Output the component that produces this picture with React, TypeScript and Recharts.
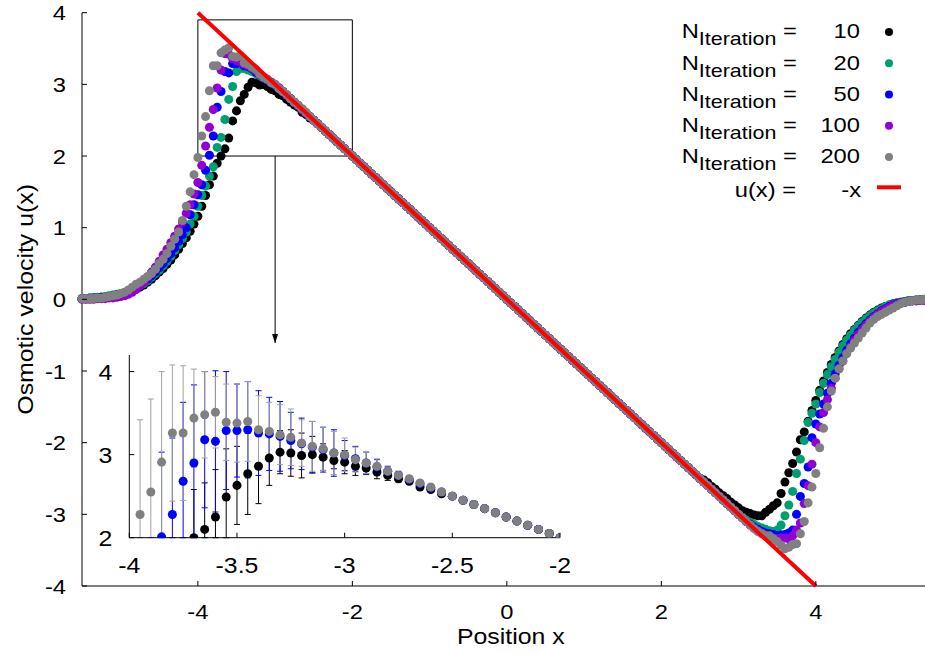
import React from "react";
import {
  ScatterChart,
  Scatter,
  XAxis,
  YAxis,
  ZAxis,
  ErrorBar,
  ReferenceArea,
  ReferenceLine,
  ReferenceDot,
  Legend,
} from "recharts";

const FONT = "'Liberation Sans', Arial, Helvetica, sans-serif";
const STRETCH = 1.13;

// sample positions, step 0.05 from -5.5 to 5.5
const xGrid = [
  -5.5, -5.45, -5.4, -5.35, -5.3, -5.25, -5.2, -5.15, -5.1, -5.05,
  -5, -4.95, -4.9, -4.85, -4.8, -4.75, -4.7, -4.65, -4.6, -4.55,
  -4.5, -4.45, -4.4, -4.35, -4.3, -4.25, -4.2, -4.15, -4.1, -4.05,
  -4, -3.95, -3.9, -3.85, -3.8, -3.75, -3.7, -3.65, -3.6, -3.55,
  -3.5, -3.45, -3.4, -3.35, -3.3, -3.25, -3.2, -3.15, -3.1, -3.05,
  -3, -2.95, -2.9, -2.85, -2.8, -2.75, -2.7, -2.65, -2.6, -2.55,
  -2.5, -2.45, -2.4, -2.35, -2.3, -2.25, -2.2, -2.15, -2.1, -2.05,
  -2, -1.95, -1.9, -1.85, -1.8, -1.75, -1.7, -1.65, -1.6, -1.55,
  -1.5, -1.45, -1.4, -1.35, -1.3, -1.25, -1.2, -1.15, -1.1, -1.05,
  -1, -0.95, -0.9, -0.85, -0.8, -0.75, -0.7, -0.65, -0.6, -0.55,
  -0.5, -0.45, -0.4, -0.35, -0.3, -0.25, -0.2, -0.15, -0.1, -0.05,
  0, 0.05, 0.1, 0.15, 0.2, 0.25, 0.3, 0.35, 0.4, 0.45,
  0.5, 0.55, 0.6, 0.65, 0.7, 0.75, 0.8, 0.85, 0.9, 0.95,
  1, 1.05, 1.1, 1.15, 1.2, 1.25, 1.3, 1.35, 1.4, 1.45,
  1.5, 1.55, 1.6, 1.65, 1.7, 1.75, 1.8, 1.85, 1.9, 1.95,
  2, 2.05, 2.1, 2.15, 2.2, 2.25, 2.3, 2.35, 2.4, 2.45, 2.5,
  2.55, 2.6, 2.65, 2.7, 2.75, 2.8, 2.85, 2.9, 2.95, 3,
  3.05, 3.1, 3.15, 3.2, 3.25, 3.3, 3.35, 3.4, 3.45, 3.5,
  3.55, 3.6, 3.65, 3.7, 3.75, 3.8, 3.85, 3.9, 3.95, 4,
  4.05, 4.1, 4.15, 4.2, 4.25, 4.3, 4.35, 4.4, 4.45, 4.5,
  4.55, 4.6, 4.65, 4.7, 4.75, 4.8, 4.85, 4.9, 4.95, 5,
  5.05, 5.1, 5.15, 5.2, 5.25, 5.3, 5.35, 5.4, 5.45, 5.5,
];

// u(x) for x = -5.5 .. -2.55
const left10 = [
  0.01, 0.01, 0.02, 0.02, 0.02, 0.03, 0.03, 0.04, 0.05, 0.06,
  0.07, 0.08, 0.1, 0.12, 0.14, 0.17, 0.2, 0.24, 0.28, 0.33,
  0.38, 0.43, 0.49, 0.55, 0.62, 0.7, 0.78, 0.86, 0.95, 1.05,
  1.16, 1.3, 1.45, 1.6, 1.72, 1.9, 2.0, 2.1, 2.25, 2.49,
  2.63, 2.77, 2.86, 2.96, 3.03, 3.02, 2.99, 3.0, 2.97, 2.93,
  2.91, 2.86, 2.84, 2.79, 2.75, 2.71, 2.68, 2.61, 2.58, 2.53,
];
const left20 = [
  0.01, 0.01, 0.02, 0.02, 0.03, 0.03, 0.04, 0.05, 0.06, 0.07,
  0.08, 0.09, 0.11, 0.13, 0.16, 0.19, 0.22, 0.26, 0.31, 0.36,
  0.41, 0.47, 0.53, 0.6, 0.68, 0.76, 0.85, 0.94, 1.05, 1.16,
  1.3, 1.45, 1.58, 1.72, 1.85, 2.12, 2.26, 2.51, 2.79, 2.97,
  3.18, 3.22, 3.22, 3.2, 3.18, 3.15, 3.12, 3.09, 3.06, 3.03,
  2.99, 2.95, 2.9, 2.85, 2.8, 2.75, 2.7, 2.65, 2.6, 2.55,
];
const left50 = [
  0.01, 0.01, 0.01, 0.02, 0.02, 0.03, 0.03, 0.04, 0.05, 0.06,
  0.07, 0.09, 0.11, 0.14, 0.17, 0.2, 0.24, 0.28, 0.33, 0.38,
  0.44, 0.5, 0.57, 0.64, 0.72, 0.81, 0.9, 1.0, 1.18, 1.32,
  1.46, 1.6, 1.8, 2.01, 2.28, 2.68, 2.9, 3.18, 3.16, 3.29,
  3.29, 3.3, 3.26, 3.25, 3.22, 3.17, 3.13, 3.09, 3.06, 3.02,
  2.99, 2.95, 2.9, 2.85, 2.8, 2.75, 2.7, 2.65, 2.6, 2.55,
];
const left100 = [
  0.0, 0.0, 0.0, 0.0, 0.01, 0.01, 0.01, 0.02, 0.02, 0.03,
  0.04, 0.05, 0.07, 0.1, 0.14, 0.19, 0.24, 0.31, 0.38, 0.45,
  0.53, 0.62, 0.7, 0.79, 0.88, 0.98, 1.08, 1.2, 1.32, 1.47,
  1.63, 1.87, 2.14, 2.4, 2.65, 2.95, 3.2, 3.43, 3.42, 3.36,
  3.33, 3.31, 3.28, 3.26, 3.23, 3.19, 3.14, 3.1, 3.07, 3.03,
  3.0, 2.95, 2.9, 2.85, 2.8, 2.75, 2.7, 2.65, 2.6, 2.55,
];
const left200 = [
  0.01, 0.01, 0.01, 0.01, 0.02, 0.02, 0.03, 0.04, 0.05, 0.06,
  0.08, 0.1, 0.13, 0.17, 0.21, 0.24, 0.28, 0.32, 0.36, 0.42,
  0.5, 0.56, 0.64, 0.74, 0.84, 0.94, 1.1, 1.3, 1.5, 1.74,
  1.98, 2.28, 2.55, 2.91, 3.26, 3.26, 3.44, 3.48, 3.51, 3.39,
  3.38, 3.4, 3.3, 3.28, 3.24, 3.21, 3.14, 3.1, 3.07, 3.02,
  3.0, 2.94, 2.9, 2.86, 2.8, 2.75, 2.71, 2.66, 2.61, 2.55,
];

// x = -2.5 .. 2.5: all five runs sit on top of each other here
const overlapMid = [
  2.5, 2.45, 2.4, 2.35, 2.3, 2.25, 2.2, 2.15, 2.1, 2.05,
  2, 1.95, 1.9, 1.85, 1.8, 1.75, 1.7, 1.65, 1.6, 1.55,
  1.5, 1.45, 1.4, 1.35, 1.3, 1.25, 1.2, 1.15, 1.1, 1.05,
  1, 0.95, 0.9, 0.85, 0.8, 0.75, 0.7, 0.65, 0.6, 0.55,
  0.5, 0.45, 0.4, 0.35, 0.3, 0.25, 0.2, 0.15, 0.1, 0.05,
  0, -0.05, -0.1, -0.15, -0.2, -0.25, -0.3, -0.35, -0.4, -0.45,
  -0.5, -0.55, -0.6, -0.65, -0.7, -0.75, -0.8, -0.85, -0.9, -0.95,
  -1, -1.05, -1.1, -1.15, -1.2, -1.25, -1.3, -1.35, -1.4, -1.45,
  -1.5, -1.55, -1.6, -1.65, -1.7, -1.75, -1.8, -1.85, -1.9, -1.95,
  -2, -2.05, -2.1, -2.15, -2.2, -2.25, -2.3, -2.35, -2.4, -2.45, -2.5,
];

// u(x) for x = 2.55 .. 5.5
const right10 = [
  -2.52, -2.56, -2.61, -2.65, -2.7, -2.74, -2.78, -2.83, -2.87, -2.91,
  -2.95, -2.97, -2.99, -3.01, -3.02, -3.02, -2.97, -2.93, -2.88, -2.84,
  -2.71, -2.55, -2.42, -2.29, -2.13, -1.96, -1.85, -1.7, -1.55, -1.41,
  -1.27, -1.14, -1.02, -0.91, -0.81, -0.72, -0.63, -0.55, -0.48, -0.42,
  -0.36, -0.31, -0.26, -0.22, -0.18, -0.15, -0.12, -0.1, -0.08, -0.06,
  -0.05, -0.04, -0.03, -0.02, -0.02, -0.01, -0.01, -0.01, 0.0, 0.0,
];
const right20 = [
  -2.55, -2.6, -2.65, -2.7, -2.75, -2.8, -2.85, -2.9, -2.95, -3.0,
  -3.04, -3.08, -3.11, -3.14, -3.17, -3.19, -3.21, -3.23, -3.24, -3.22,
  -3.15, -3.02, -2.87, -2.68, -2.43, -2.23, -1.97, -1.72, -1.59, -1.46,
  -1.3, -1.17, -1.05, -0.94, -0.84, -0.74, -0.65, -0.57, -0.5, -0.43,
  -0.37, -0.32, -0.27, -0.23, -0.19, -0.16, -0.13, -0.1, -0.08, -0.07,
  -0.05, -0.04, -0.03, -0.02, -0.02, -0.01, -0.01, 0.0, 0.0, 0.0,
];
const right50 = [
  -2.55, -2.6, -2.65, -2.7, -2.75, -2.8, -2.85, -2.9, -2.95, -3.0,
  -3.05, -3.1, -3.14, -3.18, -3.21, -3.24, -3.26, -3.27, -3.28, -3.3,
  -3.29, -3.28, -3.26, -3.22, -3.0, -2.75, -2.57, -2.34, -1.93, -1.74,
  -1.6, -1.46, -1.31, -1.17, -1.04, -0.92, -0.81, -0.71, -0.62, -0.54,
  -0.46, -0.4, -0.34, -0.29, -0.24, -0.2, -0.16, -0.13, -0.1, -0.08,
  -0.06, -0.05, -0.04, -0.03, -0.02, -0.02, -0.01, -0.01, 0.0, 0.0,
];
const right100 = [
  -2.55, -2.6, -2.65, -2.7, -2.75, -2.8, -2.85, -2.9, -2.95, -3.0,
  -3.05, -3.1, -3.15, -3.19, -3.23, -3.26, -3.29, -3.31, -3.33, -3.34,
  -3.33, -3.33, -3.34, -3.3, -3.22, -3.12, -2.85, -2.6, -2.3, -2.0,
  -1.78, -1.58, -1.4, -1.24, -1.1, -0.97, -0.86, -0.75, -0.66, -0.57,
  -0.49, -0.42, -0.36, -0.3, -0.25, -0.21, -0.17, -0.14, -0.11, -0.09,
  -0.07, -0.05, -0.04, -0.03, -0.02, -0.02, -0.01, -0.01, 0.0, 0.0,
];
const right200 = [
  -2.55, -2.6, -2.65, -2.7, -2.75, -2.8, -2.85, -2.9, -2.95, -3.0,
  -3.05, -3.1, -3.15, -3.2, -3.24, -3.27, -3.3, -3.3, -3.34, -3.38,
  -3.43, -3.48, -3.46, -3.42, -3.41, -3.27, -3.1, -2.84, -2.62, -2.43,
  -2.07, -1.8, -1.5, -1.28, -1.1, -0.97, -0.86, -0.76, -0.68, -0.61,
  -0.54, -0.47, -0.4, -0.33, -0.28, -0.24, -0.21, -0.18, -0.15, -0.12,
  -0.09, -0.06, -0.04, -0.03, -0.02, -0.01, -0.01, 0.0, 0.0, 0.0,
];

// inset error bars for x = -3.95 .. -2.0
const err10 = [
  0.3, 0.35, 0.35, 0.25, 0.1, 0.58, 0.56, 0.57, 0.58, 0.47,
  0.49, 0.45, 0.33, 0.26, 0.28, 0.27, 0.22, 0.16, 0.1, 0.14,
  0.11, 0.08, 0.08, 0.06, 0.04, 0.02, 0.01, 0, 0, 0,
  0, 0, 0, 0, 0, 0, 0, 0, 0, 0,
];
const err50 = [
  0.3, 0.2, 1.02, 0.92, 0.95, 0.94, 0.82, 0.85, 0.71, 0.56,
  0.58, 0.51, 0.44, 0.42, 0.34, 0.31, 0.31, 0.27, 0.28, 0.18,
  0.15, 0.13, 0.09, 0.06, 0.05, 0.03, 0.02, 0, 0, 0,
  0, 0, 0, 0, 0, 0, 0, 0, 0, 0,
];
const err200 = [
  1.14, 1.12, 1.09, 0.82, 0.81, 0.59, 0.52, 0.43, 0.46, 0.47,
  0.48, 0.41, 0.35, 0.36, 0.34, 0.28, 0.3, 0.26, 0.26, 0.2,
  0.15, 0.13, 0.09, 0.05, 0.04, 0.03, 0.02, 0, 0, 0,
  0, 0, 0, 0, 0, 0, 0, 0, 0, 0,
];

const exactX = [-4, 4];
const exactY = [4, -4];

const mainXTicks = [-4, -2, 0, 2, 4];
const mainYTicks = [-4, -3, -2, -1, 0, 1, 2, 3, 4];
const insetXTicks = [-4, -3.5, -3, -2.5, -2];
const insetYTicks = [2, 3, 4];
const INSET_Y_MIN = 2;

const runs = [
  { n: "10", color: "#000000", left: left10, right: right10 },
  { n: "20", color: "#009e73", left: left20, right: right20 },
  { n: "50", color: "#0000ff", left: left50, right: right50 },
  { n: "100", color: "#9400d3", left: left100, right: right100 },
  { n: "200", color: "#808080", left: left200, right: right200 },
];

const toPoints = (left: number[], right: number[]) => {
  const ys = [...left, ...overlapMid, ...right];
  return xGrid.map((x, i) => ({ x, y: ys[i] }));
};

const runPoints = runs.map((r) => toPoints(r.left, r.right));
const exactPoints = exactX.map((x, i) => ({ x, y: exactY[i] }));

// error bars are cut at the inset's bottom border, like the clipped plot
const clippedBar = (y: number, err: number) => {
  if (!err || y + err <= INSET_Y_MIN) return undefined;
  return [Math.min(err, y - INSET_Y_MIN), err];
};

// inset shows runs 10, 50, 200 between x=-3.95 and x=-2
const insetRuns = [
  { idx: 0, err: err10, barColor: "#000000" },
  { idx: 2, err: err50, barColor: "#0000ff" },
  { idx: 4, err: err200, barColor: "#a0a0a0" },
].map((r) => ({
  ...r,
  color: runs[r.idx].color,
  points: runPoints[r.idx]
    .slice(31, 71)
    .map((p, i) => ({ ...p, err: r.err[i], bar: clippedBar(p.y, r.err[i]) })),
}));

type Side = "bottom" | "top" | "left" | "right";

function tickRenderer(side: Side, len: number, font = 21, gap = 0, base = 0) {
  return (props: any) => {
    const { x, y, payload } = props;
    const text = String(payload.value);
    if (side === "top") return <line x1={x} y1={y} x2={x} y2={y + len} stroke="#000" />;
    if (side === "right") return <line x1={x} y1={y} x2={x - len} y2={y} stroke="#000" />;
    if (side === "bottom") {
      return (
        <g>
          <line x1={x} y1={y} x2={x} y2={y - len} stroke="#000" />
          <text
            transform={`translate(${x},${y + base}) scale(${STRETCH},1)`}
            textAnchor="middle"
            fontSize={font}
            fontFamily={FONT}
            fill="#000"
          >
            {text}
          </text>
        </g>
      );
    }
    return (
      <g>
        <line x1={x} y1={y} x2={x + len} y2={y} stroke="#000" />
        <text
          transform={`translate(${x - gap},${y + base}) scale(${STRETCH},1)`}
          textAnchor="end"
          fontSize={font}
          fontFamily={FONT}
          fill="#000"
        >
          {text}
        </text>
      </g>
    );
  };
}

const XTitle = (props: any) => {
  const vb = props.viewBox;
  return (
    <text
      transform={`translate(${vb.x + vb.width / 2 + 4},${vb.y + 58}) scale(${STRETCH},1)`}
      textAnchor="middle"
      fontSize={22}
      fontFamily={FONT}
      fill="#000"
    >
      Position x
    </text>
  );
};

const YTitle = (props: any) => {
  const vb = props.viewBox;
  return (
    <text
      transform={`translate(${vb.x + 11},${vb.y + vb.height / 2}) rotate(-90) scale(${STRETCH},1)`}
      textAnchor="middle"
      fontSize={22}
      fontFamily={FONT}
      fill="#000"
    >
      Osmotic velocity u(x)
    </text>
  );
};

const LegendBox = () => {
  const rowY = [38.3, 69.5, 100.8, 132, 163.3];
  const at = (x: number, y: number) => `translate(${x},${y}) scale(${STRETCH},1)`;
  return (
    <svg width={925} height={210} style={{ display: "block" }}>
      {runs.map((r, i) => (
        <g key={r.n}>
          <text transform={at(681.7, rowY[i])} fontSize={21} fontFamily={FONT} fill="#000">
            N
            <tspan fontSize={19} dy={7}>
              Iteration
            </tspan>
            <tspan dy={-7}> =</tspan>
          </text>
          <text transform={at(860, rowY[i])} textAnchor="end" fontSize={21} fontFamily={FONT} fill="#000">
            {r.n}
          </text>
          <circle cx={889} cy={rowY[i] - 6.3} r={4} fill={r.color} />
        </g>
      ))}
      <text transform={at(796, 196.5)} textAnchor="end" fontSize={21} fontFamily={FONT} fill="#000">
        u(x) =
      </text>
      <text transform={at(861, 196.5)} textAnchor="end" fontSize={21} fontFamily={FONT} fill="#000">
        -x
      </text>
      <line x1={877} y1={187.3} x2={901} y2={187.3} stroke="#ff0000" strokeWidth={4} />
    </svg>
  );
};

export default function App() {
  return (
    <div
      style={{
        position: "fixed",
        left: 0,
        top: 0,
        width: 925,
        height: 654,
        overflow: "hidden",
        background: "#fff",
      }}
    >
      <div style={{ position: "absolute", left: 0, top: 0 }}>
        <ScatterChart width={940} height={654} margin={{ top: 12.7, right: 8.3, bottom: 38, left: 22 }}>
          <XAxis
            type="number"
            dataKey="x"
            domain={[-5.5, 5.5]}
            ticks={mainXTicks}
            interval={0}
            tickLine={false}
            tickSize={0}
            tickMargin={0}
            height={30}
            stroke="#000"
            tick={tickRenderer("bottom", 5, 21, 0, 32.5)}
            label={XTitle}
          />
          <XAxis
            xAxisId="top"
            orientation="top"
            type="number"
            domain={[-5.5, 5.5]}
            allowDataOverflow
            ticks={mainXTicks}
            interval={0}
            tickLine={false}
            tickSize={0}
            tickMargin={0}
            height={0}
            stroke="#000"
            tick={tickRenderer("top", 5)}
          />
          <YAxis
            type="number"
            dataKey="y"
            domain={[-4, 4]}
            ticks={mainYTicks}
            interval={0}
            tickLine={false}
            tickSize={0}
            tickMargin={0}
            width={60}
            stroke="#000"
            tick={tickRenderer("left", 5, 21, 16, 7.5)}
            label={YTitle}
          />
          <YAxis
            yAxisId="right"
            orientation="right"
            type="number"
            domain={[-4, 4]}
            allowDataOverflow
            ticks={mainYTicks}
            interval={0}
            tickLine={false}
            tickSize={0}
            tickMargin={0}
            width={0}
            stroke="#000"
            tick={tickRenderer("right", 5)}
          />
          <ZAxis range={[64, 64]} />
          {runs.map((r, i) => (
            <Scatter
              key={r.n}
              name={`N = ${r.n}`}
              data={runPoints[i]}
              fill={r.color}
              isAnimationActive={false}
            />
          ))}
          <Scatter
            name="u(x) = -x"
            data={exactPoints}
            fill="#ff0000"
            line={{ stroke: "#ff0000", strokeWidth: 4 }}
            shape={() => <g />}
            isAnimationActive={false}
          />
          <ReferenceArea x1={-4} x2={-2} y1={2} y2={3.9} fill="none" stroke="#000" strokeWidth={1} />
          <ReferenceLine
            segment={[
              { x: -3, y: 2 },
              { x: -3, y: -0.61 },
            ]}
            stroke="#000"
            strokeWidth={1}
          />
          <ReferenceDot
            x={-3}
            y={-0.61}
            shape={(p: any) => (
              <path d={`M${p.cx - 3},${p.cy - 9} L${p.cx},${p.cy} L${p.cx + 3},${p.cy - 9} Z`} fill="#000" />
            )}
          />
          <Legend
            verticalAlign="middle"
            layout="horizontal"
            align="center"
            wrapperStyle={{ position: "absolute", left: 0, top: 0, width: 925, height: 210, margin: 0, padding: 0 }}
            content={() => <LegendBox />}
          />
        </ScatterChart>
      </div>

      <div style={{ position: "absolute", left: 0, top: 0 }}>
        <ScatterChart width={925} height={654} margin={{ top: 355, right: 365, bottom: 86.3, left: 89.3 }}>
          <XAxis
            type="number"
            dataKey="x"
            domain={[-4, -2]}
            allowDataOverflow
            ticks={insetXTicks}
            interval={0}
            tickLine={false}
            tickSize={0}
            tickMargin={0}
            height={30}
            stroke="#000"
            tick={tickRenderer("bottom", 5, 22, 0, 35)}
          />
          <XAxis
            xAxisId="top"
            orientation="top"
            type="number"
            domain={[-4, -2]}
            allowDataOverflow
            ticks={insetXTicks}
            interval={0}
            tickLine={false}
            tickSize={0}
            tickMargin={0}
            height={0}
            stroke="#000"
            tick={tickRenderer("top", 5)}
          />
          <YAxis
            type="number"
            dataKey="y"
            domain={[INSET_Y_MIN, 4.2]}
            allowDataOverflow
            ticks={insetYTicks}
            interval={0}
            tickLine={false}
            tickSize={0}
            tickMargin={0}
            width={40}
            stroke="#000"
            tick={tickRenderer("left", 5, 22, 17, 8)}
          />
          <YAxis
            yAxisId="right"
            orientation="right"
            type="number"
            domain={[INSET_Y_MIN, 4.2]}
            allowDataOverflow
            ticks={insetYTicks}
            interval={0}
            tickLine={false}
            tickSize={0}
            tickMargin={0}
            width={0}
            stroke="#000"
            tick={tickRenderer("right", 5)}
          />
          <ZAxis range={[42, 42]} />
          {insetRuns.map((r) => (
            <Scatter key={r.idx} data={r.points} fill={r.color} isAnimationActive={false}>
              <ErrorBar
                dataKey="bar"
                direction="y"
                width={3}
                stroke={r.barColor}
                strokeWidth={1}
                isAnimationActive={false}
              />
            </Scatter>
          ))}
        </ScatterChart>
      </div>
    </div>
  );
}
